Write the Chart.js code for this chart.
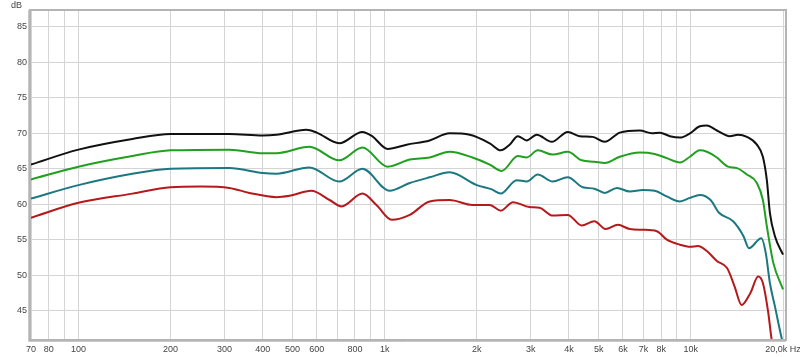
<!DOCTYPE html>
<html>
<head>
<meta charset="utf-8">
<script src="https://cdn.jsdelivr.net/npm/chart.js@4/dist/chart.umd.min.js"></script>
<style>
  html, body { margin: 0; padding: 0; background: #fff; }
  canvas { display: block; }
</style>
</head>
<body>
<canvas id="myChart" width="800" height="357"></canvas>
<script>
// frequency response curves
const blackFreq = [70, 100, 150, 200, 311, 400, 443, 555, 600, 711, 846, 910, 1023, 1180, 1403, 1630, 1896, 2204, 2394, 2560, 2722, 2911, 3138, 3514, 3963, 4337, 4783, 5234, 5861, 6810, 7460, 7920, 8540, 9210, 9930, 10700, 11280, 12160, 13400, 14250, 15240, 16430, 17190, 17710, 18120, 18820, 20000];
const blackDb = [65.6, 67.7, 69.2, 69.9, 69.9, 69.7, 69.8, 70.5, 70.1, 68.6, 70.2, 69.6, 67.8, 68.4, 69.0, 70.0, 69.8, 68.6, 67.6, 68.4, 69.6, 69.0, 69.8, 68.8, 70.2, 69.6, 69.5, 68.8, 70.1, 70.4, 70.0, 70.1, 69.6, 69.4, 70.0, 71.0, 71.1, 70.4, 69.6, 69.8, 69.5, 68.4, 66.7, 63.4, 58.8, 55.5, 52.9];

const greenFreq = [70, 100, 150, 200, 311, 400, 443, 568, 711, 846, 1023, 1208, 1403, 1630, 1935, 2204, 2412, 2722, 2911, 3162, 3540, 3963, 4400, 4840, 5234, 5861, 6810, 7620, 8350, 9210, 9930, 10700, 11280, 12160, 13220, 14150, 15240, 16430, 17190, 17710, 18600, 20000];
const greenDb = [63.5, 65.3, 66.8, 67.6, 67.7, 67.2, 67.2, 68.1, 66.2, 68.0, 65.3, 66.3, 66.6, 67.4, 66.6, 65.6, 64.7, 66.8, 66.6, 67.6, 67.0, 67.4, 66.2, 66.0, 65.8, 66.7, 67.3, 67.1, 66.5, 65.9, 66.7, 67.6, 67.4, 66.6, 65.3, 65.1, 64.2, 63.0, 60.6, 56.9, 51.7, 48.0];

const tealFreq = [70, 100, 150, 200, 311, 400, 443, 568, 711, 846, 1038, 1208, 1403, 1630, 2000, 2240, 2394, 2700, 2911, 3162, 3540, 3963, 4436, 4840, 5234, 5737, 6320, 6970, 7620, 8350, 9210, 9930, 10700, 11600, 12360, 13740, 14860, 15480, 16990, 17570, 18120, 18820, 19830, 20300];
const tealDb = [60.8, 62.7, 64.3, 65.0, 65.1, 64.4, 64.3, 65.2, 63.2, 65.0, 61.9, 63.0, 63.8, 64.5, 62.7, 62.1, 61.5, 63.4, 63.2, 64.2, 63.2, 63.8, 62.4, 62.2, 61.6, 62.3, 61.8, 62.0, 61.9, 61.1, 60.4, 60.9, 61.3, 60.6, 58.8, 57.6, 55.5, 53.8, 55.2, 53.1, 48.9, 45.6, 41.0, 39.5];

const redFreq = [70, 100, 150, 200, 250, 311, 362, 443, 489, 576, 661, 723, 846, 940, 1055, 1208, 1403, 1630, 1935, 2204, 2394, 2625, 2970, 3205, 3540, 3963, 4400, 4840, 5270, 5780, 6320, 6970, 7740, 8350, 9210, 9930, 10550, 11280, 12160, 13130, 13900, 14640, 15650, 16590, 17190, 17900, 18350, 18800];
const redDb = [58.1, 60.2, 61.5, 62.4, 62.5, 62.3, 61.6, 61.0, 61.2, 61.9, 60.6, 59.7, 61.5, 59.9, 57.8, 58.5, 60.4, 60.6, 59.9, 59.9, 59.1, 60.3, 59.6, 59.5, 58.4, 58.5, 57.0, 57.6, 56.5, 57.1, 56.5, 56.4, 56.2, 55.0, 54.3, 54.0, 54.1, 53.4, 52.0, 51.0, 48.4, 45.8, 47.5, 49.8, 48.9, 44.7, 41.0, 39.0];

const xTicks = [70, 80, 90, 100, 200, 300, 400, 500, 600, 700, 800, 900, 1000, 2000, 3000, 4000, 5000, 6000, 7000, 8000, 9000, 10000, 20000];
const xLabels = ['70', '80', '', '100', '200', '300', '400', '500', '600', '', '800', '', '1k', '2k', '3k', '4k', '5k', '6k', '7k', '8k', '', '10k', '20,0k Hz'];
const yTicks = [45, 50, 55, 60, 65, 70, 75, 80, 85];

function toPoints(freq, db) {
    return freq.map((f, i) => ({ x: f, y: db[i] }));
}

function series(label, freq, db, color) {
    return {
        label: label,
        data: toPoints(freq, db),
        borderColor: color,
        backgroundColor: color,
        borderWidth: 2,
        pointRadius: 0,
        showLine: true,
        cubicInterpolationMode: 'monotone'
    };
}

const frame = {
    id: 'frame',
    afterDraw(chart) {
        const { ctx, chartArea: a } = chart;
        ctx.save();
        ctx.strokeStyle = '#b4b4b4';
        ctx.lineWidth = 2;
        ctx.strokeRect(a.left - 1, a.top - 1, a.right - a.left + 2, a.bottom - a.top + 2);
        ctx.strokeStyle = '#c8c8c8';
        ctx.lineWidth = 1;
        ctx.beginPath();
        ctx.moveTo(a.left - 2.5, a.top - 1);
        ctx.lineTo(a.left - 2.5, a.bottom + 2.5);
        ctx.lineTo(a.right + 1, a.bottom + 2.5);
        ctx.stroke();
        ctx.fillStyle = '#444';
        ctx.font = '9px "Liberation Sans", Arial, sans-serif';
        ctx.textBaseline = 'top';
        ctx.fillText('dB', 11, 1);
        ctx.restore();
    }
};

const ctx = document.getElementById('myChart');
const chart = new Chart(ctx, {
    type: 'scatter',
    data: {
        datasets: [
            series('Black', blackFreq, blackDb, '#111111'),
            series('Green', greenFreq, greenDb, '#1fa01f'),
            series('Teal', tealFreq, tealDb, '#1b7880'),
            series('Red', redFreq, redDb, '#b5191c')
        ]
    },
    options: {
        responsive: false,
        animation: false,
        layout: { padding: { top: 11, right: 15, left: 0, bottom: 0 } },
        plugins: {
            legend: { display: false },
            tooltip: { enabled: false }
        },
        scales: {
            x: {
                type: 'logarithmic',
                min: 70,
                max: 20300,
                border: { display: false },
                grid: { color: '#d4d4d4', lineWidth: 1, drawTicks: false },
                afterBuildTicks: s => { s.ticks = xTicks.map(v => ({ value: v })); },
                afterFit: s => { s.height = 18; s.paddingLeft = 0; s.paddingRight = 0; },
                ticks: {
                    autoSkip: false,
                    maxRotation: 0,
                    padding: 5,
                    color: '#444',
                    font: { family: '"Liberation Sans", Arial, sans-serif', size: 9 },
                    callback: (value) => {
                        const i = xTicks.indexOf(value);
                        return i < 0 ? '' : xLabels[i];
                    }
                }
            },
            y: {
                min: 41,
                max: 87.25,
                border: { display: false },
                grid: { color: '#d4d4d4', lineWidth: 1, drawTicks: false },
                afterBuildTicks: s => { s.ticks = yTicks.map(v => ({ value: v })); },
                afterFit: s => { s.width = 31; s.paddingTop = 0; s.paddingBottom = 0; },
                ticks: {
                    padding: 4,
                    color: '#444',
                    font: { family: '"Liberation Sans", Arial, sans-serif', size: 9 }
                }
            }
        }
    },
    plugins: [frame]
});
</script>
</body>
</html>
